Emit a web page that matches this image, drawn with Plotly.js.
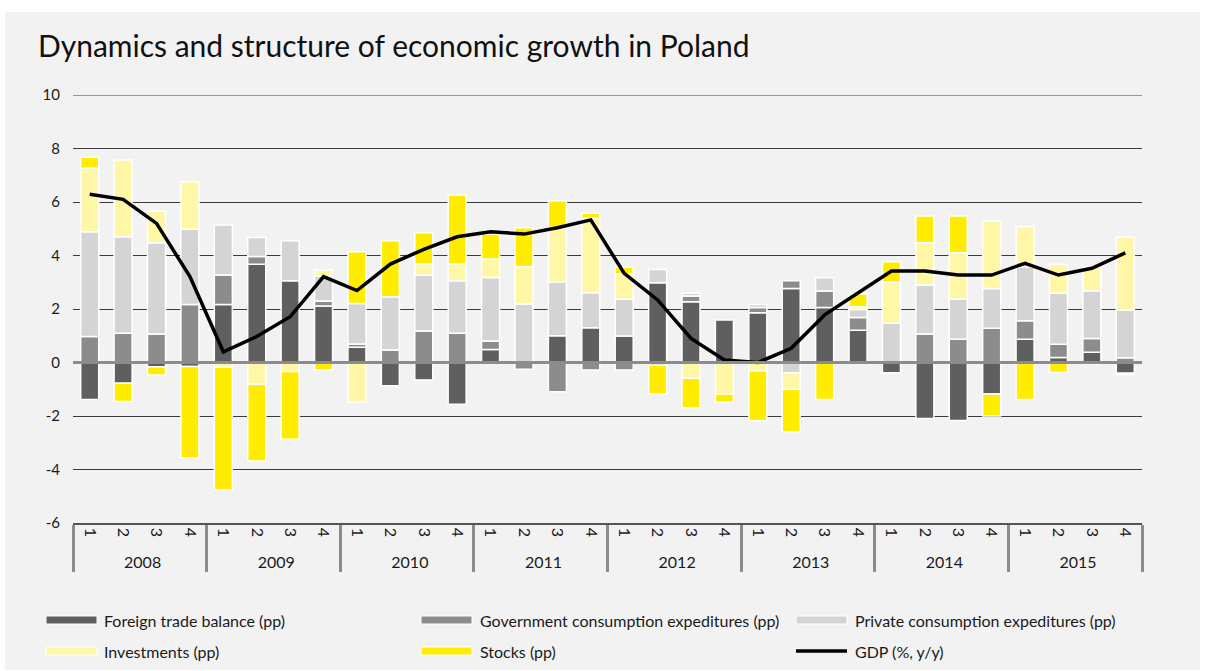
<!DOCTYPE html>
<html><head><meta charset="utf-8">
<script src="https://cdn.plot.ly/plotly-3.0.1.min.js"></script>
<style>
html,body{margin:0;padding:0;background:#ffffff;}
#chart{position:absolute;left:5px;top:12px;width:1195px;height:658px;}
</style></head><body><div id="chart"></div>
<script>
const years = ['2008','2009','2010','2011','2012','2013','2014','2015'];
const quarters = ['1','2','3','4'];
const yTicks = [-6,-4,-2,0,2,4,6,8,10];
const seriesNames = ['Foreign trade balance (pp)','Government consumption expeditures (pp)','Private consumption expeditures (pp)','Investments (pp)','Stocks (pp)','GDP (%, y/y)'];

const foreignTrade = [-1.38,-0.78,-0.16,-0.15, 2.17,3.67,3.06,2.11, 0.57,-0.87,-0.65,-1.56, 0.49,0,1.0,1.30, 0.99,2.98,2.27,1.59, 1.86,2.77,2.06,1.21, -0.38,-2.09,-2.17,-1.18, 0.87,0.19,0.38,-0.40];
const govConsumption = [0.97,1.09,1.07,2.17, 1.10,0.29,0,0.19, 0.12,0.47,1.18,1.09, 0.31,-0.25,-1.09,-0.28, -0.28,-0.10,0.22,0, 0.20,0.29,0.61,0.47, 0,1.07,0.87,1.28, 0.69,0.49,0.52,0.18];
const privConsumption = [3.92,3.61,3.41,2.81, 1.87,0.71,1.49,0.93, 1.52,1.99,2.09,1.97, 2.38,2.19,2.02,1.31, 1.38,0.50,0.10,0, 0.11,-0.38,0.50,0.30, 1.47,1.83,1.50,1.49, 2.02,1.91,1.78,1.78];
const investments = [2.37,2.87,1.18,1.78, -0.18,-0.81,-0.34,0.23, -1.49,0,0.41,0.62, 0.69,1.39,2.03,2.78, 0.94,0,-0.59,-1.18, -0.31,-0.62,0,0.10, 1.53,1.58,1.73,2.52, 1.50,1.08,0.90,2.72];
const stocks = [0.41,-0.68,-0.31,-3.41, -4.59,-2.87,-2.53,-0.28, 1.93,2.09,1.17,2.58, 0.93,1.46,1.00,0.19, 0.25,-1.08,-1.10,-0.31, -1.87,-1.59,-1.38,0.48, 0.77,1.00,1.38,-0.82, -1.38,-0.37,-0.05,-0.05];
const gdp = [6.29,6.10,5.20,3.21, 0.40,0.97,1.71,3.21, 2.69,3.68,4.23,4.70, 4.89,4.80,5.04,5.33, 3.33,2.34,0.90,0.09, 0.00,0.53,1.78,2.60, 3.42,3.42,3.27,3.27, 3.71,3.27,3.52,4.10];

const colors = ['#5f5f5f','#8c8c8c','#d4d4d4','#fff7a6','#ffec00','#000000'];

const xYears = [], xQuarters = [];
years.forEach(y => quarters.forEach(q => { xYears.push(y); xQuarters.push(q); }));
const X = [xYears, xQuarters];

const barSeries = [foreignTrade, govConsumption, privConsumption, investments, stocks];
const traces = barSeries.map((vals, i) => ({
  type: 'bar', name: seriesNames[i], x: X,
  y: vals.map(v => v === 0 ? null : v),
  marker: {color: colors[i], line: {color: '#ffffff', width: 1.5}},
  hoverinfo: 'y+name'
}));
traces.push({
  type: 'scatter', mode: 'lines', name: seriesNames[5], x: X, y: gdp,
  line: {color: '#000000', width: 3.5}
});

const W = 1195, H = 658, ML = 68, MR = 58, MT = 83, MB = 147;
const PW = W - ML - MR, PH = H - MT - MB;
const px = ax => (ax - 5 - ML) / PW;
const py = ay => (H - MB - (ay - 12)) / PH;

const legendPos = [
  {sx0: 46, sx1: 97, tx: 102, y: 620},
  {sx0: 421, sx1: 472, tx: 478, y: 620},
  {sx0: 796, sx1: 847, tx: 853, y: 620},
  {sx0: 46, sx1: 97, tx: 102, y: 651},
  {sx0: 421, sx1: 472, tx: 478, y: 651},
  {sx0: 796, sx1: 847, tx: 853, y: 651}
];
const shapes = [
  {type: 'line', xref: 'paper', yref: 'y', x0: 0, x1: 1, y0: 10, y1: 10,
   line: {color: '#3a3a3a', width: 1}, layer: 'below'},
  {type: 'line', xref: 'paper', yref: 'y', x0: 0, x1: 1, y0: 0, y1: 0,
   line: {color: '#8c8c8c', width: 3}, layer: 'above'}
];
const annotations = [];
legendPos.forEach((p, i) => {
  if (i < 5) {
    shapes.push({type: 'rect', xref: 'paper', yref: 'paper',
      x0: px(p.sx0), x1: px(p.sx1), y0: py(p.y + 4), y1: py(p.y - 4),
      fillcolor: colors[i], line: {color: '#ffffff', width: 1}});
  } else {
    shapes.push({type: 'line', xref: 'paper', yref: 'paper',
      x0: px(p.sx0), x1: px(p.sx1), y0: py(p.y), y1: py(p.y),
      line: {color: '#000000', width: 3.5}});
  }
  annotations.push({xref: 'paper', yref: 'paper', x: px(p.tx), y: py(p.y),
    xanchor: 'left', yanchor: 'middle', showarrow: false, text: seriesNames[i],
    font: {family: 'Lato, sans-serif', size: 16, color: '#1a1a1a'}});
});

const layout = {
  width: W, height: H,
  margin: {l: ML, r: MR, t: MT, b: MB, pad: 0},
  paper_bgcolor: '#f2f2f2', plot_bgcolor: '#f2f2f2',
  title: {text: 'Dynamics and structure of economic growth in Poland',
    x: 33 / W, xanchor: 'left', xref: 'container',
    y: 1 - 34 / H, yanchor: 'middle', yref: 'container',
    font: {family: 'Lato, sans-serif', size: 30, color: '#111111'}},
  barmode: 'relative', bargap: 0.46,
  showlegend: false,
  font: {family: 'Lato, sans-serif', color: '#1a1a1a'},
  xaxis: {type: 'multicategory', tickangle: 90, ticks: '',
    tickfont: {size: 16, color: '#1a1a1a'},
    showdividers: true, dividercolor: '#8c8c8c', dividerwidth: 3,
    showline: true, linecolor: '#555555', linewidth: 1.5, showgrid: false},
  yaxis: {range: [-6, 10], tickmode: 'array', tickvals: yTicks,
    ticktext: yTicks.map(v => String(v)), showgrid: true,
    gridcolor: '#3a3a3a', gridwidth: 1, zeroline: false, ticks: '',
    ticklabelstandoff: 12, tickfont: {size: 15, color: '#1a1a1a'}},
  shapes: shapes, annotations: annotations
};
Plotly.newPlot('chart', traces, layout, {displayModeBar: false, staticPlot: true});
</script></body></html>
